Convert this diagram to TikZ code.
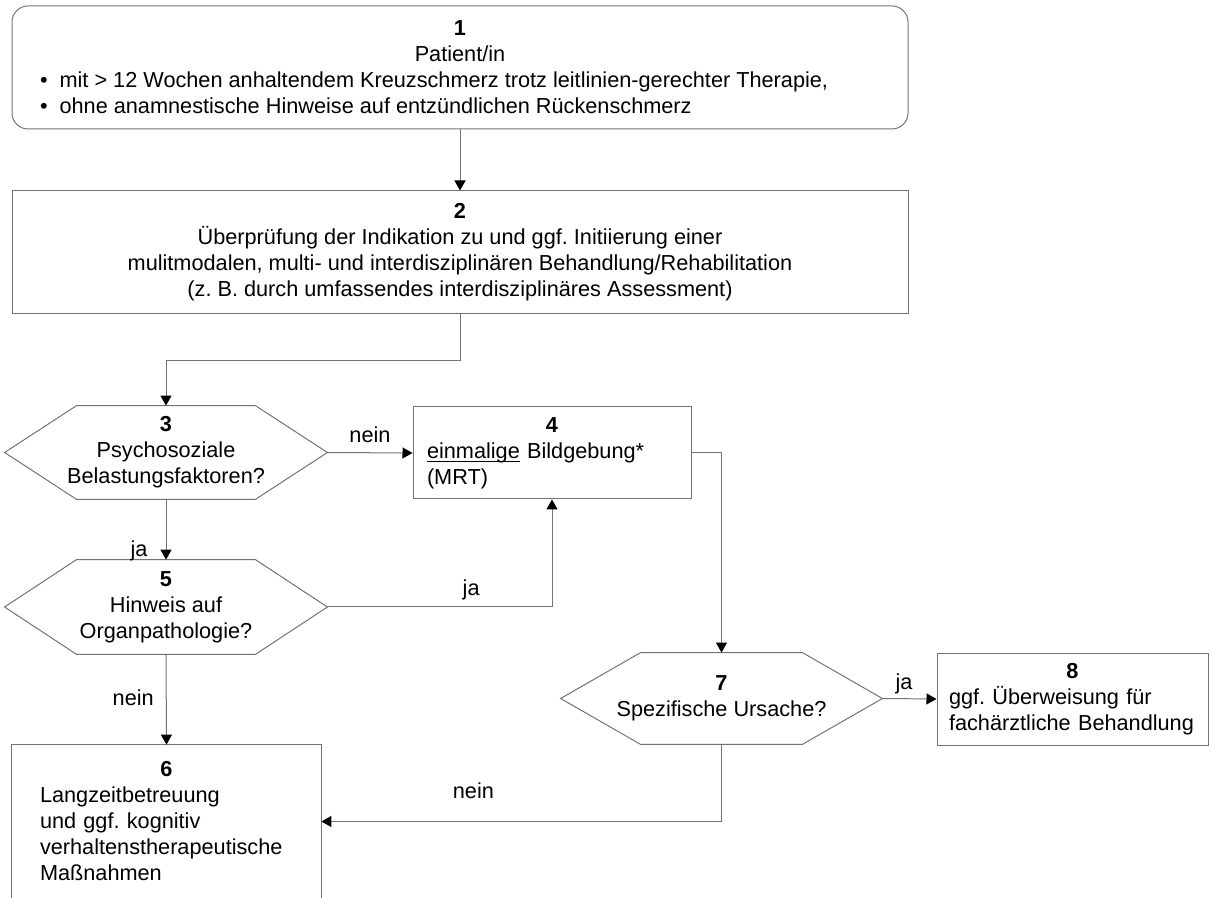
\documentclass[tikz,border=0pt]{standalone}
\usepackage{fontspec}
\setmainfont{Liberation Sans}
\usetikzlibrary{arrows.meta}
\newcommand\hexframe[2]{\draw[grayline] (#1.west) -- ([xshift=#2]#1.north west) -- ([xshift=-#2]#1.north east) -- (#1.east) -- ([xshift=-#2]#1.south east) -- ([xshift=#2]#1.south west) -- cycle;}
\newcommand\ulword[1]{\underline{\smash{#1}}}

\begin{document}
\frenchspacing
\begin{tikzpicture}[x=0.5pt,y=-0.5pt]
\tikzstyle{every node}+=[inner sep=0pt, text=black, font=\fontsize{10.85}{13}\selectfont]
\tikzstyle{grayline}=[draw=black!55, line width=0.5pt]
\tikzstyle{box}=[grayline, rectangle, align=center]
\tikzstyle{hex}=[rectangle, align=center, minimum width=161pt, minimum height=47pt]
\tikzstyle{conn}=[draw=black!55, line width=0.5pt, -{Triangle[length=5pt,width=5.5pt,color=black]}]
\useasboundingbox (0,0) rectangle (1211,898);
\node [box, rounded corners=8pt, minimum width=448pt, minimum height=61.5pt] (b1) at (460,67.5) {\textbf{1}\\Patient/in\\
  \makebox[420pt][l]{\textbullet\hspace{6pt}mit > 12 Wochen anhaltendem Kreuzschmerz trotz leitlinien-gerechter Therapie,}\\
  \makebox[420pt][l]{\textbullet\hspace{6pt}ohne anamnestische Hinweise auf entzündlichen Rückenschmerz}};
\node [box, minimum width=448pt, minimum height=61.5pt] (b2) at (460,252.5) {\textbf{2}\\Überprüfung der Indikation zu und ggf. Initiierung einer\\
  mulitmodalen, multi- und interdisziplinären Behandlung/Rehabilitation\\(z. B. durch umfassendes interdisziplinäres Assessment)};
\node [hex, minimum height=46.5pt] (h3) at (166,452.5) {\textbf{3}\\Psychosoziale\\Belastungsfaktoren?};
\hexframe{h3}{36pt}
\node [box, align=left, text width=125pt, minimum width=139pt, minimum height=46pt] (b4) at (552,453) {\makebox[125pt]{\textbf{4}}\\\ulword{einmalige} Bildgebung*\\(MRT)};
\node [hex] (h5) at (166,607) {\textbf{5}\\Hinweis auf\\Organpathologie?};
\hexframe{h5}{36pt}
\node [hex, minimum width=160.5pt, minimum height=45.5pt] (h7) at (721.5,698.5) {\textbf{7}\\Spezifische Ursache?};
\hexframe{h7}{40pt}
\node [box, align=left, text width=123.5pt, minimum width=135.5pt, minimum height=46pt] (b8) at (1072.5,699) {\makebox[123.5pt]{\textbf{8}}\\ggf. Überweisung für\\fachärztliche Behandlung};
\node [rectangle, align=left, text width=126.5pt, minimum width=154.5pt, minimum height=76.5pt] (b6) at (166.5,821.5) {\makebox[126.5pt]{\textbf{6}}\\Langzeitbetreuung\\und ggf. kognitiv\\verhaltenstherapeutische\\Maßnahmen};
\draw [grayline] (b6.south west) |- (b6.north east) -- (b6.south east);
\draw [conn] (b1.south) -- (b2.north);
\draw [conn] (b2.south) -- ++(0,46) -| (h3.north);
\draw [conn] (h3.east) -- node [above=5pt] {nein} (b4.west);
\draw [conn] (h3.south) -- node [pos=0.85, left=9pt] {ja} (h5.north);
\draw [conn] (h5.east) -| node [pos=0.32, above=3pt] {ja} (b4.south);
\draw [conn] (h5.south) -- node [pos=0.48, left=6pt] {nein} (b6.north);
\draw [conn] (b4.east) -| (h7.north);
\draw [conn] (h7.east) -- node [pos=0.4, above=2pt] {ja} (b8.west);
\draw [conn] (h7.south) |- node [pos=0.81, above=11pt] {nein} (b6.east);
\end{tikzpicture}
\end{document}
